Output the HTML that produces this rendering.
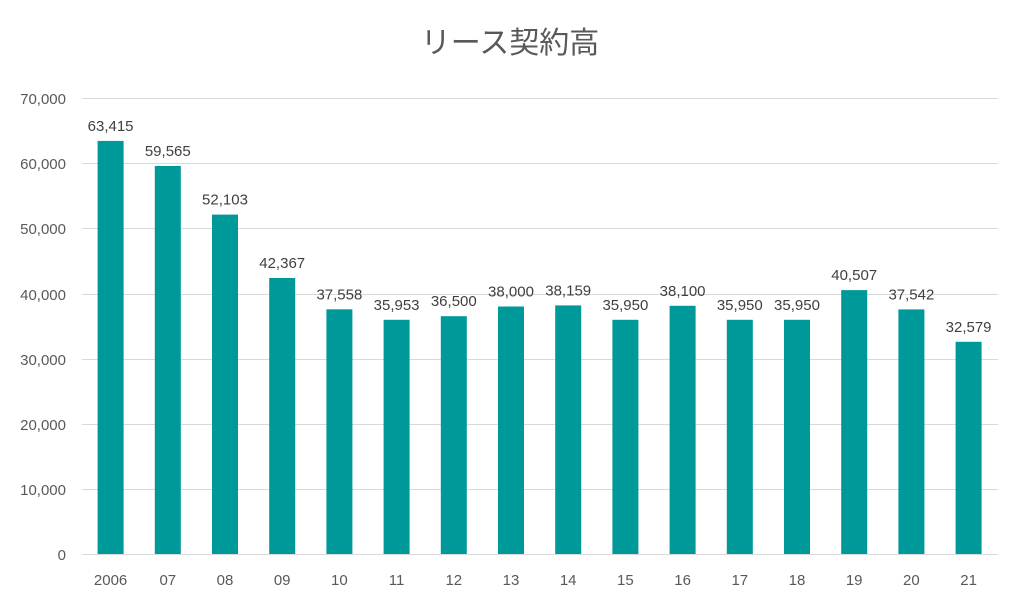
<!DOCTYPE html>
<html><head><meta charset="utf-8"><style>
body{margin:0;background:#fff}
text{font-family:"Liberation Sans","Noto Sans CJK JP",sans-serif}
</style></head><body>
<svg width="1020" height="603" xmlns="http://www.w3.org/2000/svg">
<rect width="1020" height="603" fill="#fff"/>
<text x="510" y="53" text-anchor="middle" font-size="30" fill="#595959">リース契約高</text>
<g stroke="#d9d9d9" stroke-width="1">
<line x1="82" x2="998" y1="98.5" y2="98.5"/>
<line x1="82" x2="998" y1="163.5" y2="163.5"/>
<line x1="82" x2="998" y1="228.5" y2="228.5"/>
<line x1="82" x2="998" y1="294.5" y2="294.5"/>
<line x1="82" x2="998" y1="359.5" y2="359.5"/>
<line x1="82" x2="998" y1="424.5" y2="424.5"/>
<line x1="82" x2="998" y1="489.5" y2="489.5"/>
<line x1="82" x2="998" y1="554.5" y2="554.5"/>
</g>
<g font-size="15" fill="#595959" text-anchor="end">
<text x="66" y="104">70,000</text>
<text x="66" y="169">60,000</text>
<text x="66" y="234">50,000</text>
<text x="66" y="300">40,000</text>
<text x="66" y="365">30,000</text>
<text x="66" y="430">20,000</text>
<text x="66" y="495">10,000</text>
<text x="66" y="560">0</text>
</g>
<g fill="#009999">
<rect x="97.6" y="140.9" width="26" height="413.1"/>
<rect x="154.8" y="166.0" width="26" height="388.0"/>
<rect x="212" y="214.6" width="26" height="339.4"/>
<rect x="269.2" y="278.0" width="26" height="276.0"/>
<rect x="326.4" y="309.3" width="26" height="244.7"/>
<rect x="383.6" y="319.8" width="26" height="234.2"/>
<rect x="440.8" y="316.2" width="26" height="237.8"/>
<rect x="498" y="306.5" width="26" height="247.5"/>
<rect x="555.2" y="305.4" width="26" height="248.6"/>
<rect x="612.4" y="319.8" width="26" height="234.2"/>
<rect x="669.6" y="305.8" width="26" height="248.2"/>
<rect x="726.8" y="319.8" width="26" height="234.2"/>
<rect x="784" y="319.8" width="26" height="234.2"/>
<rect x="841.2" y="290.1" width="26" height="263.9"/>
<rect x="898.4" y="309.4" width="26" height="244.6"/>
<rect x="955.6" y="341.8" width="26" height="212.2"/>
</g>
<g font-size="15" fill="#404040" text-anchor="middle">
<text x="110.6" y="131">63,415</text>
<text x="167.8" y="156">59,565</text>
<text x="225" y="204.6">52,103</text>
<text x="282.2" y="268">42,367</text>
<text x="339.4" y="299.3">37,558</text>
<text x="396.6" y="309.8">35,953</text>
<text x="453.8" y="306.2">36,500</text>
<text x="511" y="296.5">38,000</text>
<text x="568.2" y="295.4">38,159</text>
<text x="625.4" y="309.8">35,950</text>
<text x="682.6" y="295.8">38,100</text>
<text x="739.8" y="309.8">35,950</text>
<text x="797" y="309.8">35,950</text>
<text x="854.2" y="280.1">40,507</text>
<text x="911.4" y="299.4">37,542</text>
<text x="968.6" y="331.8">32,579</text>
</g>
<g font-size="15" fill="#595959" text-anchor="middle">
<text x="110.6" y="585">2006</text>
<text x="167.8" y="585">07</text>
<text x="225" y="585">08</text>
<text x="282.2" y="585">09</text>
<text x="339.4" y="585">10</text>
<text x="396.6" y="585">11</text>
<text x="453.8" y="585">12</text>
<text x="511" y="585">13</text>
<text x="568.2" y="585">14</text>
<text x="625.4" y="585">15</text>
<text x="682.6" y="585">16</text>
<text x="739.8" y="585">17</text>
<text x="797" y="585">18</text>
<text x="854.2" y="585">19</text>
<text x="911.4" y="585">20</text>
<text x="968.6" y="585">21</text>
</g>
</svg>
</body></html>
